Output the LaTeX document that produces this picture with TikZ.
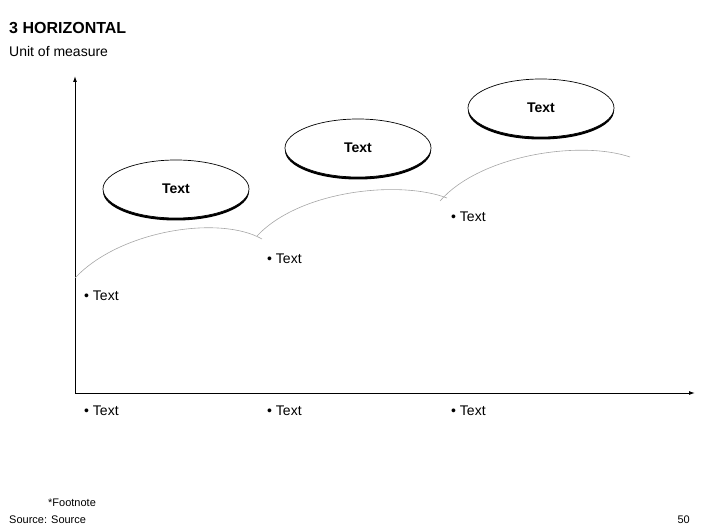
\documentclass[tikz,border=0pt]{standalone}
\usepackage{fontspec}
\setmainfont{Liberation Sans}
\usetikzlibrary{shapes.geometric,arrows.meta}
\begin{document}
\begin{tikzpicture}[x=1pt,y=-1pt,
  oval/.style={ellipse,draw,line width=0.7pt,fill=white,minimum width=146pt,minimum height=58pt,font=\bfseries\fontsize{14}{16}\selectfont},
  lbl/.style={anchor=west,font=\fontsize{14}{16}\selectfont,inner sep=0pt},
  curve/.style={draw=gray!70,line width=0.6pt},
  ax/.style={line width=1pt,-{Latex[length=6pt,width=4pt]}}]
\useasboundingbox (0,0) rectangle (706,529);
\node[anchor=base west,inner sep=0pt,font=\bfseries\fontsize{16}{18}\selectfont] (title) at (9,34) {3 HORIZONTAL};
\node[anchor=base west,inner sep=0pt,font=\fontsize{14}{16}\selectfont] (unit) at (9,57) {Unit of measure};
\coordinate (o) at (75,393);
\coordinate (ytop) at (75,76);
\coordinate (xend) at (695,393);
\draw[ax] (o) -- (ytop);
\draw[ax] (o) -- (xend);
\path[curve] (75,278) .. controls (120,230) and (220,215) .. (262,239);
\path[curve] (257,236) .. controls (300,190) and (400,180) .. (447,198);
\path[curve] (440,201) .. controls (480,155) and (580,140) .. (630,157);
\foreach \n/\x/\y in {a/176/189,b/358/148,c/541/108}{
  \fill (\x,\y+2.5) ellipse (73pt and 29pt);
  \node[oval] (\n) at (\x,\y) {Text};
}
\node[lbl] (t1) at (84,296) {\textbullet\ Text};
\node[lbl] (t2) at (267,259) {\textbullet\ Text};
\node[lbl] (t3) at (451,217) {\textbullet\ Text};
\node[lbl] (x1) at (84,411) {\textbullet\ Text};
\node[lbl] (x2) at (267,411) {\textbullet\ Text};
\node[lbl] (x3) at (451,411) {\textbullet\ Text};
\node[anchor=base west,inner sep=0pt,font=\fontsize{11}{13}\selectfont] (fn) at (48,506) {*Footnote};
\node[anchor=base west,inner sep=0pt,font=\fontsize{11}{13}\selectfont] (src) at (9,523) {Source: Source};
\node[anchor=base east,inner sep=0pt,font=\fontsize{11}{13}\selectfont] (pg) at (690,523) {50};
\end{tikzpicture}
\end{document}
